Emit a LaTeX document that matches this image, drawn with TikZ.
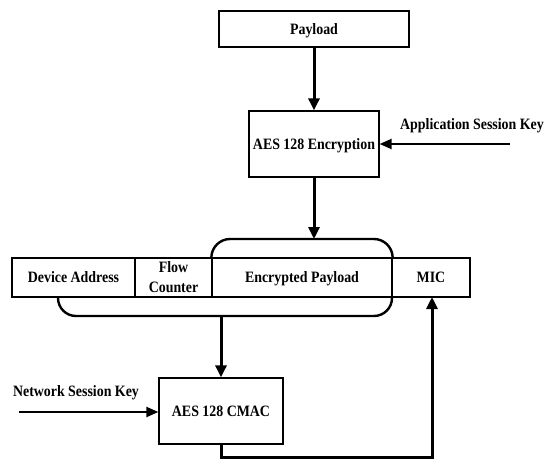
\documentclass[tikz,border=0pt]{standalone}
\usepackage{fontspec}
\setmainfont{Liberation Serif}[FakeStretch=0.88]
\usetikzlibrary{arrows.meta}
\begin{document}
\begin{tikzpicture}[x=1pt,y=-1pt,
  txt/.style={font=\fontsize{15.8}{20}\selectfont\bfseries, inner sep=0pt, align=center, text depth=0pt},
  box/.style={txt, draw, line width=1.3pt},
  arr/.style={line width=3pt, -{Triangle[length=12pt,width=11pt]}},
  keyarr/.style={line width=2.2pt, -{Triangle[length=12pt,width=10pt]}},
  brk/.style={line width=2.4pt, rounded corners=18pt}]
\useasboundingbox (0,0) rectangle (550,469);
\node[box, minimum width=190pt, minimum height=36pt] (pay) at (314,29) {Payload};
\node[box, minimum width=130pt, minimum height=66pt] (enc) at (314,144) {AES 128 Encryption};
\node[txt] (ask) at (472,124) {Application Session Key};
\coordinate (askend) at (510,144);
\node[box, minimum width=123pt, minimum height=39pt] (dev) at (73.5,277.5) {Device Address};
\node[box, minimum width=77pt, minimum height=39pt] (flow) at (173.5,277.5) {Flow\\Counter};
\node[box, minimum width=180pt, minimum height=39pt] (ep) at (302,277.5) {Encrypted Payload};
\node[box, minimum width=78pt, minimum height=39pt] (mic) at (431,277.5) {MIC};
\coordinate (bt) at (314,239);
\coordinate (bb) at (221,316);
\draw[brk] (ep.north west) -- (212,239) -- (392,239) -- (ep.north east);
\draw[brk] (58,297) -- (58,316) -- (392,316) -- (392,297);
\node[box, minimum width=124pt, minimum height=66pt] (cmac) at (221,411) {AES 128 CMAC};
\node[txt] (nsk) at (76,391) {Network Session Key};
\coordinate (nskend) at (19,412);
\draw[arr] (pay) -- (enc);
\draw[keyarr] (askend) -- (enc.east);
\draw[arr] (enc.south) -- (bt);
\draw[arr] (bb) -- (cmac.north);
\draw[keyarr] (nskend) -- (cmac.west |- nskend);
\draw[arr, rounded corners=0pt] (cmac.south) -- (221,457) -- (432,457) -- (432,297);
\end{tikzpicture}
\end{document}
